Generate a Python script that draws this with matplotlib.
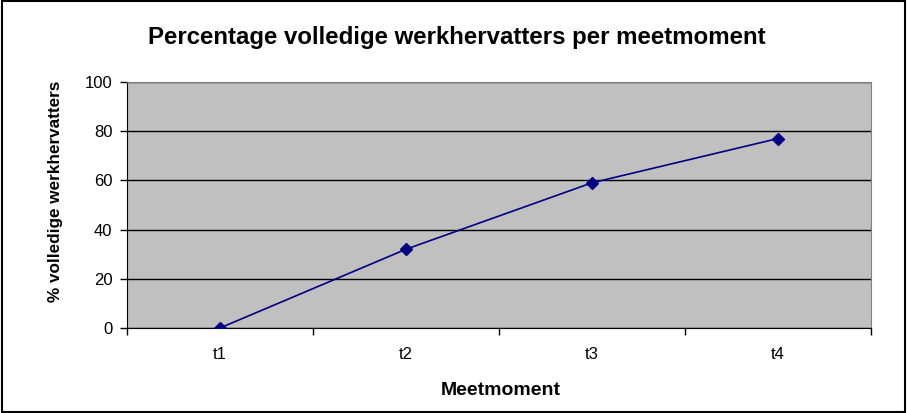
import matplotlib.pyplot as plt
from matplotlib.patches import Rectangle

plt.rcParams['font.family'] = ['Liberation Sans', 'DejaVu Sans']

categories = ["t1", "t2", "t3", "t4"]
percentages = [0, 32, 59, 77]
y_ticks = [0, 20, 40, 60, 80, 100]

fig = plt.figure(figsize=(9.07, 4.13), dpi=100)
ax = fig.add_axes([0.140, 0.2058, 0.820, 0.5957])

ax.set_facecolor("#C0C0C0")
x = list(range(len(categories)))
ax.plot(x, percentages, color="#000080", linewidth=1.2, marker="D",
        markersize=6, markerfacecolor="#000080", markeredgecolor="#000080",
        zorder=3)

ax.set_xlim(-0.5, len(categories) - 0.5)
ax.set_ylim(0, 100)
ax.set_yticks(y_ticks)
ax.yaxis.grid(True, color="black", linewidth=1)
ax.set_axisbelow(True)

# category boundaries get the tick marks, labels sit between them
ax.set_xticks([i - 0.5 for i in range(len(categories) + 1)])
ax.set_xticklabels([])
ax.set_xticks(x, minor=True)
ax.set_xticklabels(categories, minor=True, fontsize=12)
ax.tick_params(axis="x", which="major", length=5, width=1, color="black")
ax.tick_params(axis="x", which="minor", length=0, pad=14)
ax.tick_params(axis="y", length=5, width=1, labelsize=12, pad=5.5)

for side in ["top", "right"]:
    ax.spines[side].set_color("#808080")
for side in ["left", "bottom"]:
    ax.spines[side].set_color("black")

fig.text(0.504, 0.909, "Percentage volledige werkhervatters per meetmoment",
         ha="center", va="center", fontsize=17.3, fontweight="bold")
fig.text(0.552, 0.054, "Meetmoment", ha="center", va="center",
         fontsize=14, fontweight="bold")
fig.text(0.061, 0.536, "% volledige werkhervatters", ha="center", va="center",
         rotation=90, fontsize=12.3, fontweight="bold")

fig.patches.append(Rectangle((0.002, 0.003), 0.996, 0.994, transform=fig.transFigure,
                             fill=False, edgecolor="black", linewidth=1.5))

fig.savefig("out.png", dpi=100)
